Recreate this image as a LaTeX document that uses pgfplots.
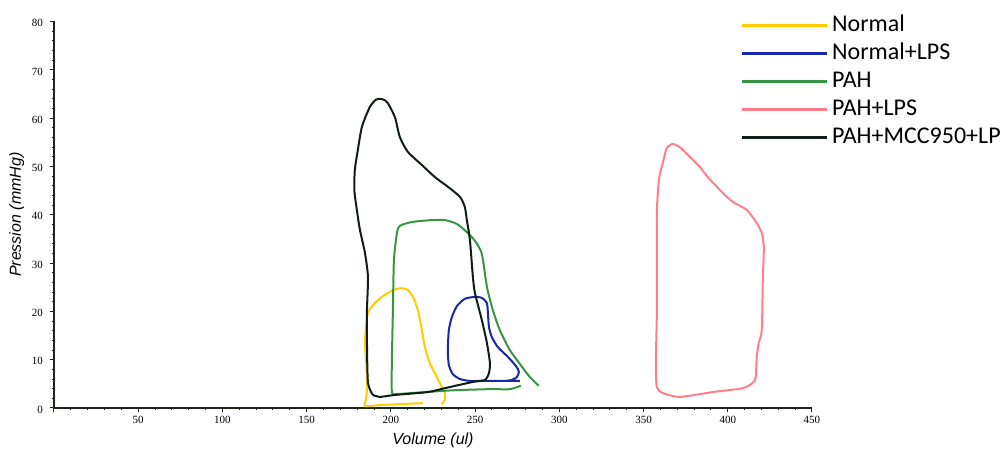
\documentclass[border=0pt]{standalone}
\usepackage{fontspec}
\setmainfont{Liberation Sans}
\newfontfamily\legfont{Carlito}
\newfontfamily\tickfont{Liberation Serif}
\usepackage{pgfplots}
\pgfplotsset{compat=1.18}

\definecolor{axcol}{RGB}{25,40,25}
\definecolor{cNormal}{RGB}{255,205,0}
\definecolor{cNormalLPS}{RGB}{25,40,170}
\definecolor{cPAH}{RGB}{55,150,65}
\definecolor{cPAHLPS}{RGB}{255,128,138}
\definecolor{cMCC}{RGB}{15,30,20}

\begin{document}
\begin{tikzpicture}
\useasboundingbox (-27pt,-23pt) rectangle (473.5pt,204pt);
\begin{axis}[
    at={(0pt,0pt)}, anchor=south west,
    scale only axis,
    width=379pt, height=193.25pt,
    xmin=0, xmax=450, ymin=0, ymax=80,
    axis x line=bottom, axis y line=left,
    axis line style={-, draw=axcol, line width=1pt},
    xtick={0,50,...,450},
    xticklabels={,50,100,150,200,250,300,350,400,450},
    ytick={0,10,...,80},
    minor x tick num=4, minor y tick num=4,
    tick align=outside, major tick length=2pt, minor tick length=1.2pt,
    tick style={draw=axcol, line width=0.5pt},
    /pgf/number format/assume math mode=true,
    ticklabel style={font=\tickfont\fontsize{5.5}{6}\selectfont, text=black},
    xticklabel style={yshift=1.5pt},
    yticklabel style={yshift=-0.8pt},
    xlabel={Volume (ul)}, ylabel={Pression (mmHg)},
    label style={font=\itshape\fontsize{8}{9}\selectfont},
    xlabel style={at={(axis description cs:0.5,-0.083)}, anchor=center},
    ylabel style={at={(axis description cs:-0.049,0.5)}, anchor=center},
    legend cell align=left,
    legend style={at={(0.905,1.022)}, anchor=north west, draw=none, fill=none,
        inner sep=0pt, row sep=2pt, column sep=2pt,
        font=\legfont\fontsize{12}{14}\selectfont,
        nodes={inner sep=0pt, text height=9pt, text depth=3pt}},
    legend image code/.code={\draw[#1, line width=1.4pt] (0pt,0pt) -- (42.5pt,0pt);},
    every axis plot/.append style={line width=1pt, smooth, tension=0.4},
]
% Normal
\addplot[cNormal] coordinates {
(219.0,1.0) (205.3,0.8) (193.5,0.6) (184.6,0.4) (185.2,1.7) (185.8,3.7)
(185.8,6.4) (185.2,9.9) (184.6,13.5) (185.2,16.8) (186.4,19.7) (189.3,21.3)
(194.7,23.0) (201.2,24.4) (206.5,24.8) (210.1,24.4) (213.1,23.0) (216.0,20.3)
(218.4,16.1) (220.2,12.6) (223.1,9.3) (227.3,6.4) (230.3,4.3) (232.0,3.1)
(232.0,1.7) (230.3,0.8)
};
% Normal+LPS
\addplot[cNormalLPS] coordinates {
(276.6,5.6) (264.7,5.6) (254.6,5.6) (246.9,5.6) (241.0,6.0) (236.8,7.0)
(234.4,8.9) (233.8,12.0) (234.4,16.1) (236.2,18.8) (239.2,21.1) (243.9,22.6)
(249.9,23.0) (254.0,22.8) (257.0,21.7) (257.6,19.7) (258.2,16.8) (259.9,14.7)
(263.5,12.6) (269.4,10.6) (274.2,8.7) (276.0,7.5) (274.8,6.4) (271.8,5.8)
(267.7,5.6)
};
% PAH
\addplot[cPAH] coordinates {
(277.2,4.6) (270.6,3.9) (258.8,3.9) (239.2,3.7) (229.1,3.5) (212.5,3.1)
(203.6,2.9) (200.6,3.3) (200.6,9.9) (201.2,20.3) (201.8,30.6) (203.6,36.2)
(205.3,37.7) (212.5,38.5) (224.3,38.9) (232.0,38.9) (239.2,38.1) (245.1,36.4)
(249.9,34.6) (254.0,31.9) (257.0,25.1) (260.5,20.3) (264.7,16.1) (270.6,12.0)
(276.6,9.1) (282.5,6.4) (287.8,4.6)
};
% PAH+LPS
\addplot[cPAHLPS] coordinates {
(367.4,54.7) (363.8,53.8) (361.4,50.7) (359.1,47.2) (357.9,40.4) (357.9,30.0)
(357.9,19.7) (357.3,9.3) (357.9,4.3) (361.4,3.1) (371.5,2.3) (391.1,3.3)
(408.9,4.1) (414.8,5.2) (416.6,6.4) (417.2,10.6) (418.4,13.5) (420.2,16.1)
(420.8,26.5) (421.4,33.3) (420.2,36.2) (417.2,38.3) (411.3,41.0) (404.2,42.4)
(399.4,43.7) (393.5,45.8) (388.1,47.8) (383.4,49.9) (377.4,52.0) (371.5,54.0)
(367.4,54.7)
};
% PAH+MCC950+LPS
\addplot[cMCC] coordinates {
(189.3,2.7) (186.4,5.2) (185.8,13.5) (185.8,20.3) (186.4,27.1) (184.6,32.1)
(181.6,36.9) (179.8,41.0) (178.3,45.1) (178.6,49.3) (180.2,53.0) (182.8,58.2)
(187.5,62.3) (191.1,63.8) (193.5,64.0) (195.8,63.8) (198.2,63.1) (202.4,60.2)
(205.3,56.1) (210.1,53.0) (218.4,50.3) (226.1,47.8) (233.8,45.8) (241.0,43.7)
(243.9,41.6) (245.1,38.9) (246.9,34.8) (248.7,27.1) (249.9,23.8) (254.0,18.2)
(257.0,13.5) (258.8,9.3) (258.2,7.2) (255.8,5.8) (248.7,5.4) (232.0,4.1)
(222.0,3.3) (202.4,2.7) (193.5,2.3) (189.3,2.7)
};
\legend{Normal,Normal+LPS,PAH,PAH+LPS,PAH+MCC950+LP}
\end{axis}
\end{tikzpicture}
\end{document}
